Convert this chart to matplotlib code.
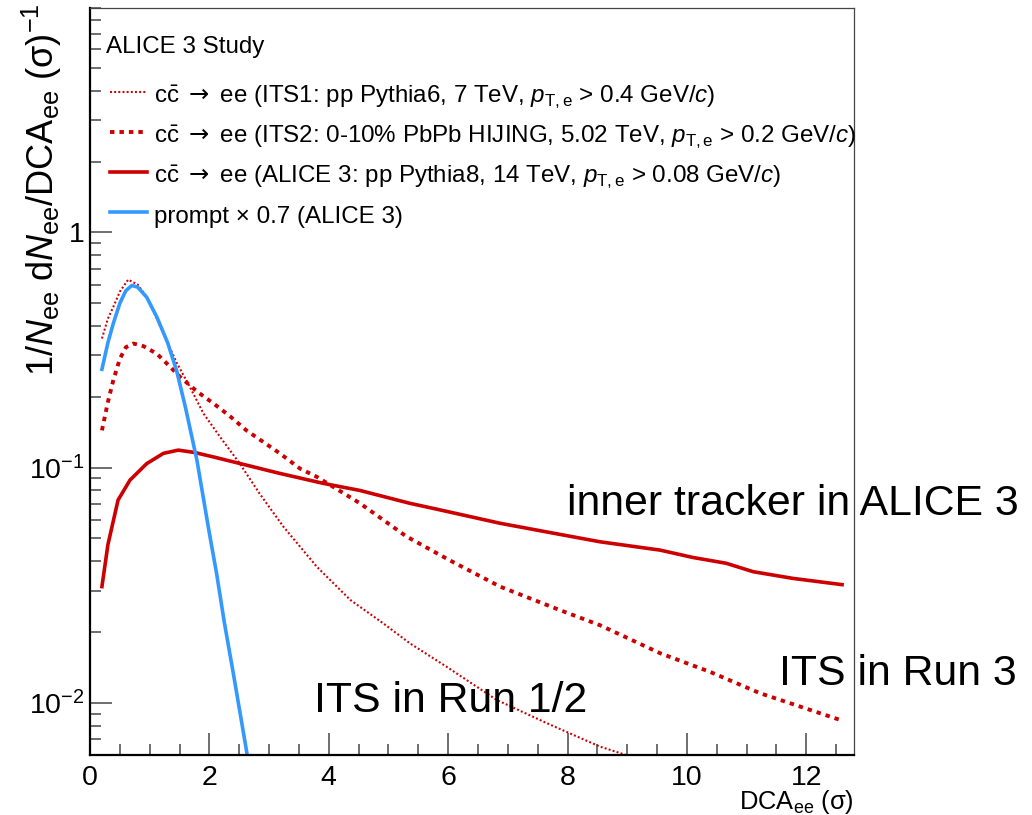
import matplotlib
matplotlib.use('Agg')
import matplotlib.pyplot as plt
from matplotlib.ticker import MultipleLocator, LogLocator, NullFormatter
import numpy as np

plt.rcParams['font.family'] = ['Liberation Sans', 'DejaVu Sans']
plt.rcParams['mathtext.fontset'] = 'custom'
plt.rcParams['mathtext.rm'] = 'Liberation Sans'
plt.rcParams['mathtext.it'] = 'Liberation Sans:italic'
plt.rcParams['mathtext.bf'] = 'Liberation Sans:bold'
plt.rcParams['mathtext.sf'] = 'DejaVu Sans'
plt.rcParams['lines.scale_dashes'] = False

# DCA_ee spectra, normalised per pair
x_prompt = [0.2, 0.3, 0.39, 0.5, 0.6, 0.7, 0.8, 0.95, 1.12, 1.3, 1.45, 1.6, 1.79, 2.0, 2.12, 2.25, 2.4, 2.62, 2.7]
y_prompt = [0.262, 0.34, 0.41, 0.50, 0.565, 0.595, 0.585, 0.53, 0.437, 0.34, 0.259, 0.18, 0.108, 0.0526, 0.0356, 0.022, 0.0134, 0.0063, 0.0047]

x_its1 = [0.2, 0.3, 0.39, 0.5, 0.64, 0.8, 0.95, 1.1, 1.28, 1.45, 1.675, 1.9, 2.18, 2.51, 2.85, 3.24, 3.8, 4.36, 4.91, 5.36, 5.97, 6.81, 7.65, 8.54, 8.98, 9.3]
y_its1 = [0.354, 0.43, 0.482, 0.56, 0.63, 0.60, 0.531, 0.44, 0.348, 0.28, 0.22, 0.17, 0.135, 0.104, 0.077, 0.0561, 0.0379, 0.0274, 0.0218, 0.0179, 0.01426, 0.0103, 0.0082, 0.00652, 0.0060, 0.0055]

x_its2 = [0.2, 0.3, 0.39, 0.5, 0.6, 0.73, 0.9, 1.12, 1.3, 1.51, 1.8, 2.07, 2.35, 2.62, 3.18, 3.52, 3.8, 4.52, 5.3, 6.0, 6.87, 7.87, 8.54, 9.55, 10.4, 11.22, 12.56]
y_its2 = [0.144, 0.19, 0.235, 0.29, 0.325, 0.337, 0.328, 0.305, 0.275, 0.243, 0.21, 0.1874, 0.165, 0.144, 0.115, 0.099, 0.0914, 0.0706, 0.051, 0.0407, 0.0312, 0.0248, 0.0214, 0.01626, 0.0135, 0.0110, 0.00847]

x_a3 = [0.2, 0.3, 0.47, 0.67, 0.95, 1.23, 1.48, 1.75, 2.07, 2.62, 3.18, 3.91, 4.52, 5.36, 5.75, 6.87, 7.7, 8.54, 9.55, 10.1, 10.66, 11.11, 11.78, 12.6]
y_a3 = [0.0312, 0.047, 0.0728, 0.0885, 0.104, 0.115, 0.1187, 0.116, 0.111, 0.1025, 0.0945, 0.0857, 0.080, 0.0705, 0.0671, 0.058, 0.053, 0.0484, 0.0446, 0.0415, 0.0392, 0.0361, 0.0338, 0.0318]

red = '#cc0000'
blue = '#3399ff'

arrow = r'$\mathsf{\rightarrow}$'
lab_its1 = r'c$\bar{\mathrm{c}}$ ' + arrow + r' ee (ITS1: pp Pythia6, 7 TeV, $p_{\mathrm{T,e}}$ > 0.4 GeV/$c$)'
lab_its2 = r'c$\bar{\mathrm{c}}$ ' + arrow + r' ee (ITS2: 0-10% PbPb HIJING, 5.02 TeV, $p_{\mathrm{T,e}}$ > 0.2 GeV/$c$)'
lab_a3 = r'c$\bar{\mathrm{c}}$ ' + arrow + r' ee (ALICE 3: pp Pythia8, 14 TeV, $p_{\mathrm{T,e}}$ > 0.08 GeV/$c$)'
lab_prompt = 'prompt × 0.7 (ALICE 3)'

fig = plt.figure(figsize=(10.32, 8.15), dpi=100)
ax = fig.add_axes([90/1032, 60/815, 764/1032, 747/815])

l1, = ax.plot(x_its1, y_its1, color=red, lw=1.5, dashes=(1.4, 1.6))
l2, = ax.plot(x_its2, y_its2, color=red, lw=2.8, dashes=(3.2, 3.6))
l3, = ax.plot(x_a3, y_a3, color=red, lw=2.6)
l4, = ax.plot(x_prompt, y_prompt, color=blue, lw=2.6)

ax.set_yscale('log')
ax.set_xlim(0, 12.8)
ax.set_ylim(0.006, 9)

ax.xaxis.set_major_locator(MultipleLocator(2))
ax.xaxis.set_minor_locator(MultipleLocator(0.5))
ax.set_yticks([0.01, 0.1, 1])
ax.set_yticklabels([r'$10^{-2}$', r'$10^{-1}$', '1'])
ax.yaxis.set_minor_locator(LogLocator(base=10, subs=np.arange(2, 10)))
ax.yaxis.set_minor_formatter(NullFormatter())

ax.tick_params(which='both', direction='in', top=False, right=False, color='#555555')
ax.tick_params(which='major', length=16, width=1.2, labelsize=20.5)
ax.tick_params(axis='x', which='major', pad=7)
ax.tick_params(axis='y', which='major', pad=4)
ax.tick_params(which='minor', length=8, width=1.2)

for s in ['left', 'bottom']:
    ax.spines[s].set_linewidth(1.6)
for s in ['top', 'right']:
    ax.spines[s].set_linewidth(0.9)
    ax.spines[s].set_color('#444444')

ax.set_xlabel(r'DCA$_{\mathrm{ee}}$ (σ)', fontsize=18.4, loc='right')
ax.xaxis.set_label_coords(1.0, -0.044)
ax.set_ylabel(r'1/$N_{\mathrm{ee}}$ d$N_{\mathrm{ee}}$/DCA$_{\mathrm{ee}}$ (σ)$^{-1}$', fontsize=26, loc='top')
ax.yaxis.set_label_coords(-0.034, 1.006)

ax.text(0.021, 0.948, 'ALICE 3 Study', transform=ax.transAxes, fontsize=17.4,
        ha='left', va='center')
leg = ax.legend([l1, l2, l3, l4], [lab_its1, lab_its2, lab_a3, lab_prompt],
                loc='upper left', bbox_to_anchor=(0.026, 0.902), frameon=False,
                fontsize=17.4, handlelength=1.55, handletextpad=0.28, handleheight=1.4,
                labelspacing=0.41, borderpad=0, borderaxespad=0)

big = 30.8
ax.text(7.99, 0.0628, 'inner tracker in ALICE 3', fontsize=big, va='baseline', ha='left', clip_on=False)
ax.text(11.54, 0.0119, 'ITS in Run 3', fontsize=big, va='baseline', ha='left', clip_on=False)
ax.text(3.75, 0.00916, 'ITS in Run 1/2', fontsize=big, va='baseline', ha='left', clip_on=False)

fig.savefig('out.png', dpi=100)
